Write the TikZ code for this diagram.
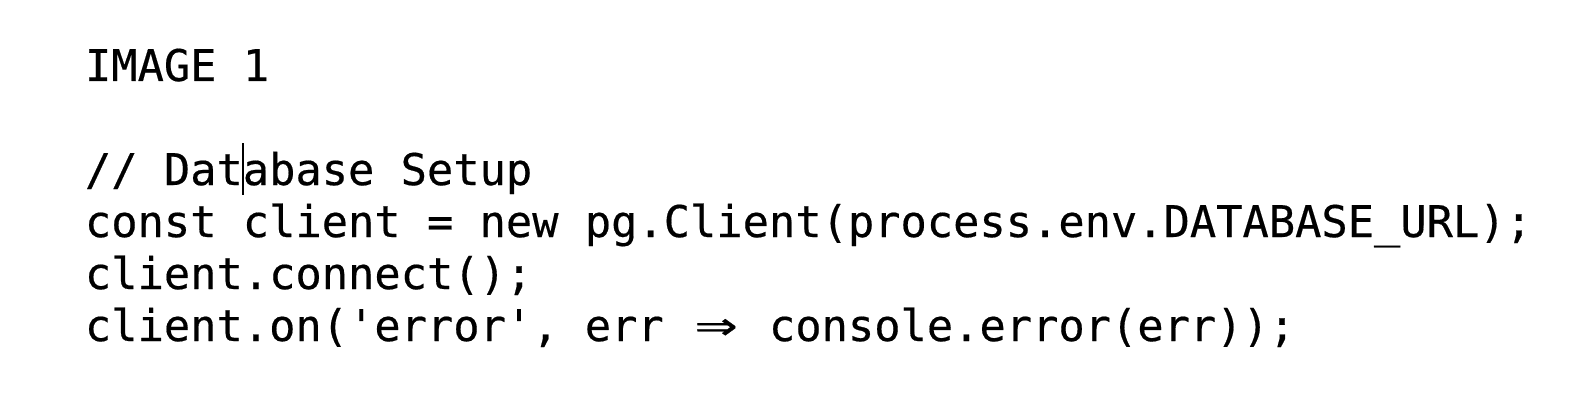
\documentclass[tikz,border=0pt]{standalone}
\usepackage{fontspec}
\usepackage{graphicx}
\newfontfamily\codefont[FakeBold=0.4]{DejaVu Sans Mono}
\newcommand{\fatarrow}{\makebox[1.204em]{\scalebox{1.6}[1.15]{⇒}}}
\tikzset{
  codeline/.style={anchor=base west, inner sep=0pt, outer sep=0pt,
    font=\codefont\fontsize{43.7}{52}\selectfont},
  caret/.style={line width=1.8pt}
}
\begin{document}
\begin{tikzpicture}[x=1pt,y=1pt]
  \useasboundingbox (0,0) rectangle (1592,-420);
  \node [codeline] (title) at (85,-81) {IMAGE 1};
  \node [codeline] (comment) at (85,-185) {// Database Setup};
  \node [codeline] (newclient) at (85,-237) {const client = new pg.Client(process.env.DATABASE\_URL);};
  \node [codeline] (connect) at (85,-289) {client.connect();};
  \node [codeline] (onerror) at (85,-341) {client.on(\textquotesingle error\textquotesingle, err \fatarrow{} console.error(err));};
  % text cursor after "Dat"
  \draw [caret] (242.8,-143) -- (242.8,-195);
\end{tikzpicture}
\end{document}
